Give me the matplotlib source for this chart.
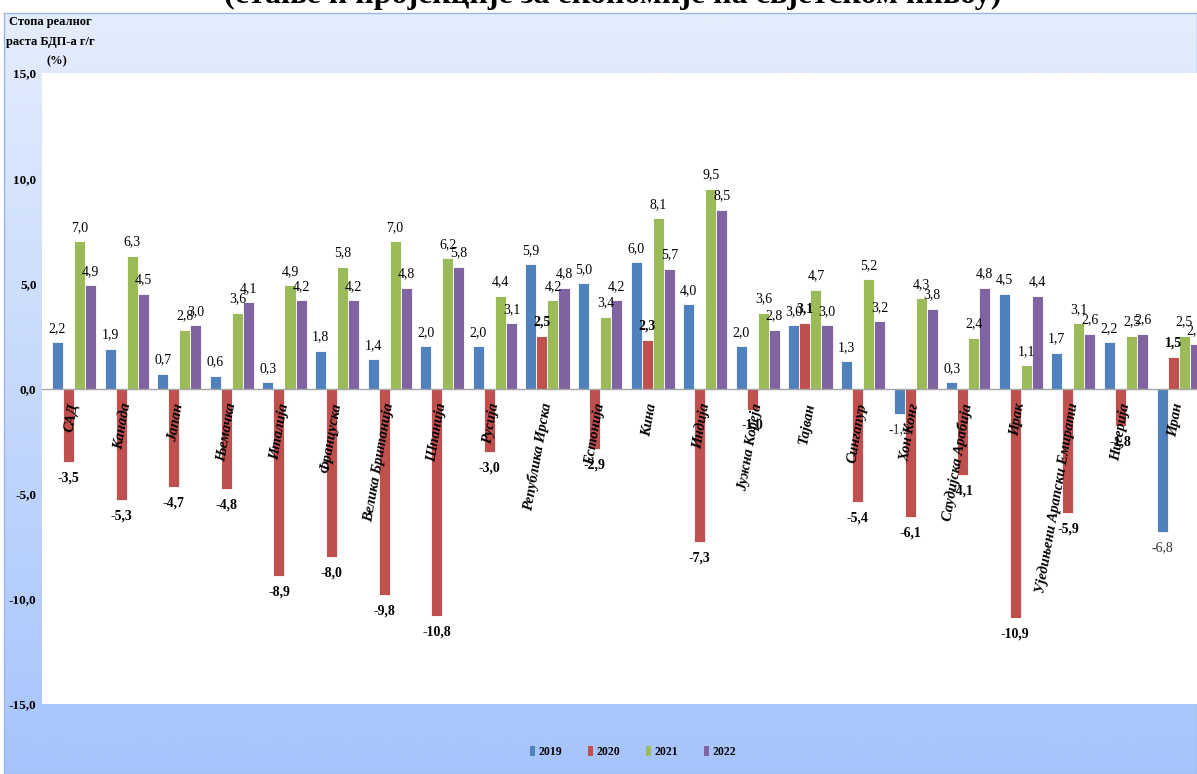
import numpy as np
import matplotlib.pyplot as plt
from matplotlib.patches import Patch
from matplotlib.colors import LinearSegmentedColormap

# Подаци: стопа реалног раста БДП-а г/г (%)
zemlje = ['САД', 'Канада', 'Јапан', 'Њемачка', 'Италија', 'Француска',
          'Велика Британија', 'Шпанија', 'Русија', 'Република Ирска',
          'Естонија', 'Кина', 'Индија', 'Јужна Кореја', 'Тајван',
          'Сингапур', 'Хон Конг', 'Саудијска Арабија', 'Ирак',
          'Уједињени Арапски Емирати', 'Нигерија', 'Иран']
godine = ['2019', '2020', '2021', '2022']
g2019 = [2.2, 1.9, 0.7, 0.6, 0.3, 1.8, 1.4, 2.0, 2.0, 5.9, 5.0,
         6.0, 4.0, 2.0, 3.0, 1.3, -1.2, 0.3, 4.5, 1.7, 2.2, -6.8]
g2020 = [-3.5, -5.3, -4.7, -4.8, -8.9, -8.0, -9.8, -10.8, -3.0, 2.5, -2.9,
         2.3, -7.3, -1.0, 3.1, -5.4, -6.1, -4.1, -10.9, -5.9, -1.8, 1.5]
g2021 = [7.0, 6.3, 2.8, 3.6, 4.9, 5.8, 7.0, 6.2, 4.4, 4.2, 3.4,
         8.1, 9.5, 3.6, 4.7, 5.2, 4.3, 2.4, 1.1, 3.1, 2.5, 2.5]
g2022 = [4.9, 4.5, 3.0, 4.1, 4.2, 4.2, 4.8, 5.8, 3.1, 4.8, 4.2,
         5.7, 8.5, 2.8, 3.0, 3.2, 3.8, 4.8, 4.4, 2.6, 2.6, 2.1]
yticks = [15, 10, 5, 0, -5, -10, -15]

boje = ['#4f81bd', '#c0504d', '#9bbb59', '#8064a2']
serije = [g2019, g2020, g2021, g2022]

W, H = 1197, 774
fig = plt.figure(figsize=(W / 100, H / 100), dpi=100)
fig.patch.set_facecolor('white')

# pozadina sa gradijentom
bg = fig.add_axes([4 / W, 0, 1 - 4 / W, 1 - 13 / H])
grad = np.linspace(0, 1, 256).reshape(-1, 1)
cm = LinearSegmentedColormap.from_list('bg', ['#e4edfc', '#a6c4fc'])
bg.imshow(grad, aspect='auto', cmap=cm, extent=[0, 1, 0, 1], origin='upper')
bg.set_xlim(0, 1)
bg.set_ylim(0, 1)
bg.set_xticks([])
bg.set_yticks([])
for s in bg.spines.values():
    s.set_color('#9db8e0')
    s.set_linewidth(1.0)

fig.text(0.512, 1 - 3 / H,
         '(стање и пројекције за економије на свјетском нивоу)',
         ha='center', va='baseline', fontsize=23, fontweight='bold',
         family='Liberation Serif', zorder=0)

ax = fig.add_axes([42 / W, 1 - 704 / H, 1 - 42 / W, (704 - 73) / H])
ax.set_facecolor('white')

x = np.arange(len(zemlje))
w = 0.21
for k in range(4):
    pos = x + (k - 1.5) * w
    ax.bar(pos, serije[k], width=w, color=boje[k], edgecolor='white',
           linewidth=0.6, zorder=2)
    for xi, v in zip(pos, serije[k]):
        lbl = ('%.1f' % v).replace('.', ',')
        if v >= 0:
            ax.text(xi, v + 0.35, lbl, ha='center', va='bottom', fontsize=10,
                    family='Liberation Serif',
                    fontweight='bold' if k == 1 else 'normal')
        else:
            ax.text(xi, v - 0.45, lbl, ha='center', va='top', fontsize=10,
                    family='Liberation Serif',
                    fontweight='bold' if k == 1 else 'normal',
                    color='#333333' if k == 0 else 'black')

for xi, z in zip(x, zemlje):
    ax.text(xi, -0.7, z, rotation=80, rotation_mode='anchor', ha='right',
            va='center', fontsize=10.5, fontweight='bold', fontstyle='italic',
            family='Liberation Serif', zorder=4)

ax.axhline(0, color='#a6a6a6', linewidth=1, zorder=3)
ax.set_xlim(-0.61, 21.35)
ax.set_ylim(-15, 15)
ax.set_xticks([])
ax.set_yticks(yticks)
ax.set_yticklabels([('%.1f' % t).replace('.', ',') for t in yticks],
                   fontsize=9.5, fontweight='bold', family='Liberation Serif')
ax.tick_params(axis='y', length=0, pad=4)
for s in ax.spines.values():
    s.set_visible(False)

fig.text(50 / W, 1 - 22 / H, 'Стопа реалног', ha='center', va='center',
         fontsize=9, fontweight='bold', family='Liberation Serif')
fig.text(50 / W, 1 - 42 / H, 'раста БДП-а г/г', ha='center', va='center',
         fontsize=9, fontweight='bold', family='Liberation Serif')
fig.text(57 / W, 1 - 61 / H, '(%)', ha='center', va='center',
         fontsize=9, fontweight='bold', family='Liberation Serif')

handles = [Patch(facecolor=c, edgecolor='none') for c in boje]
fig.legend(handles, godine, loc='center', bbox_to_anchor=(633 / W, 1 - 752 / H),
           ncol=4, frameon=False, handlelength=0.4, handleheight=0.9,
           handletextpad=0.3, columnspacing=2.2,
           prop={'family': 'Liberation Serif', 'weight': 'bold', 'size': 8.5})

fig.savefig('out.png', dpi=100)
